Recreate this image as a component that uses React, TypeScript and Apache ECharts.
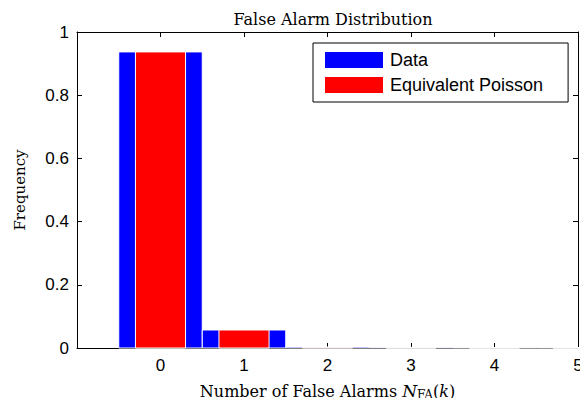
import React, { useEffect, useRef } from "react";
import * as echarts from "echarts";

const categories = [0, 1, 2, 3, 4, 5];
const dataFreq = [0.937, 0.057, 0.003, 0.002, 0.001, 0.001];
const poissonFreq = [0.937, 0.057, 0.002, 0.0001, 0.0, 0.0];
const yTicks = [0, 0.2, 0.4, 0.6, 0.8, 1];

const SANS = "'Liberation Sans', Arial, Helvetica, sans-serif";
const SERIF = "'DejaVu Serif', 'Liberation Serif', serif";

function barSeries(name: string, values: number[], width: number, color: string) {
  return {
    name,
    type: "custom",
    xAxisIndex: 0,
    yAxisIndex: 0,
    itemStyle: { color },
    data: categories.map((c, i) => [c, values[i]]),
    renderItem: (params: any, api: any) => {
      const x = api.value(0);
      const y = api.value(1);
      const p1 = api.coord([x - width / 2, y]);
      const p2 = api.coord([x + width / 2, 0]);
      return {
        type: "rect",
        shape: { x: p1[0], y: p1[1], width: p2[0] - p1[0], height: p2[1] - p1[1] },
        style: { fill: color, stroke: "#ffffff", lineWidth: 1 },
      };
    },
  };
}

export default function App() {
  const ref = useRef<HTMLDivElement>(null);
  useEffect(() => {
    if (!ref.current) return;
    const chart = echarts.init(ref.current, undefined, { renderer: "svg" });
    const axisLine = { show: true, onZero: false, lineStyle: { color: "#000", width: 1 } };
    const tick = { show: true, inside: true, length: 5, lineStyle: { color: "#000" } };
    chart.setOption({
      animation: false,
      backgroundColor: "#ffffff",
      title: {
        text: "False Alarm Distribution",
        left: 328,
        top: 6,
        textAlign: "center",
        textStyle: { fontFamily: SERIF, fontSize: 16, fontWeight: "normal", color: "#000" },
      },
      legend: {
        data: ["Data", "Equivalent Poisson"],
        orient: "vertical",
        left: 313,
        top: 43,
        icon: "rect",
        itemWidth: 58,
        itemHeight: 16,
        itemGap: 7,
        padding: [8, 25, 8, 12],
        borderColor: "#000",
        borderWidth: 1,
        backgroundColor: "#fff",
        textStyle: { fontFamily: SANS, fontSize: 18, color: "#000", padding: [0, 0, 0, 2] },
      },
      grid: { left: 77, right: 10, top: 32, bottom: 57 },
      xAxis: [
        {
          type: "value",
          min: -1,
          max: 5,
          interval: 1,
          axisLine,
          axisTick: tick,
          axisLabel: {
            fontFamily: SANS,
            fontSize: 17,
            color: "#000",
            margin: 9,
            formatter: (v: number) => (v < 0 ? "" : String(v)),
          },
          splitLine: { show: false },
          name: "{t|Number of False Alarms }{n|N}{s|FA}{t|(}{k|k}{t|)}",
          nameLocation: "middle",
          nameGap: 33,
          nameTextStyle: {
            rich: {
              t: { fontFamily: SERIF, fontSize: 16, color: "#000" },
              n: { fontFamily: SERIF, fontSize: 17, fontStyle: "italic", color: "#000" },
              s: { fontFamily: SERIF, fontSize: 12, color: "#000", verticalAlign: "bottom", padding: [8, 0, 0, 0] },
              k: { fontFamily: SERIF, fontSize: 16, fontStyle: "italic", color: "#000" },
            },
          },
        },
        {
          type: "value",
          position: "top",
          min: -1,
          max: 5,
          interval: 1,
          axisLine,
          axisTick: tick,
          axisLabel: { show: false },
          splitLine: { show: false },
        },
      ],
      yAxis: [
        {
          type: "value",
          min: 0,
          max: 1,
          interval: 0.2,
          axisLine,
          axisTick: tick,
          axisLabel: {
            fontFamily: SANS,
            fontSize: 17,
            color: "#000",
            margin: 8,
            formatter: (v: number) => String(Math.round(v * 10) / 10),
          },
          splitLine: { show: false },
          name: "Frequency",
          nameLocation: "middle",
          nameGap: 50,
          nameTextStyle: { fontFamily: SERIF, fontSize: 15, color: "#000" },
        },
        {
          type: "value",
          position: "right",
          min: 0,
          max: 1,
          interval: 0.2,
          axisLine,
          axisTick: tick,
          axisLabel: { show: false },
          splitLine: { show: false },
        },
      ],
      series: [
        barSeries("Data", dataFreq, 1.0, "#0000ff"),
        barSeries("Equivalent Poisson", poissonFreq, 0.6, "#ff0000"),
      ],
    });
    return () => chart.dispose();
  }, []);
  return <div ref={ref} style={{ width: 588, height: 406, margin: -8 }} />;
}
